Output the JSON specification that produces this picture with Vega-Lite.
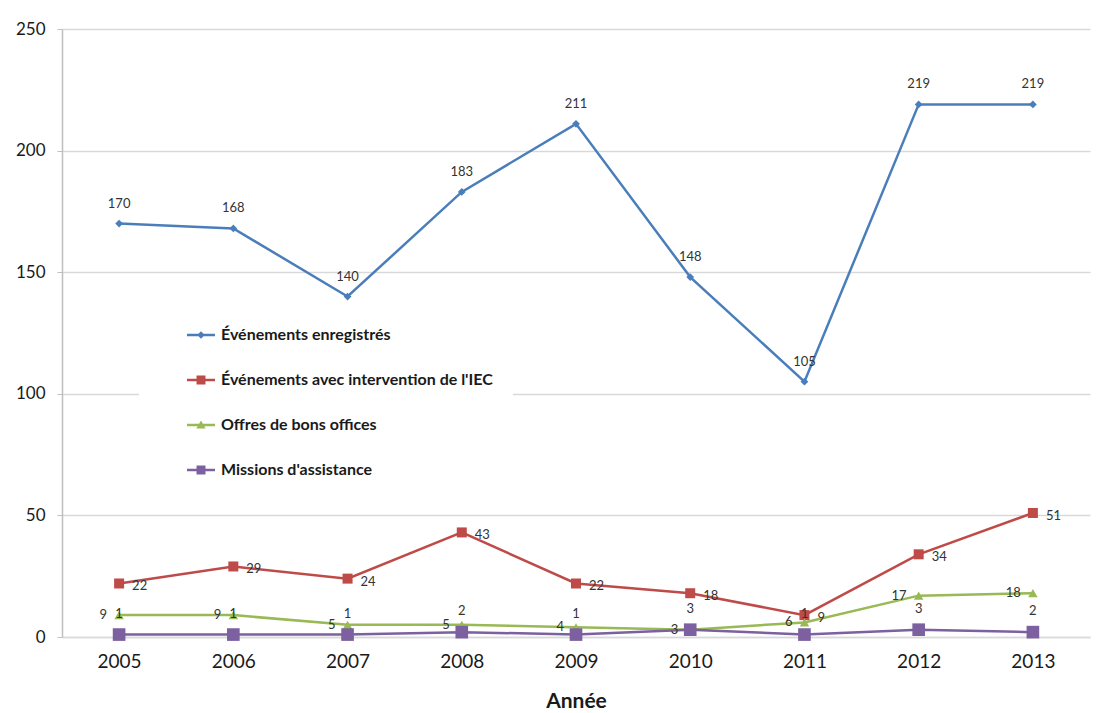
{
  "$schema": "https://vega.github.io/schema/vega-lite/v6.json",
  "width": 1028,
  "height": 608,
  "autosize": "none",
  "padding": {"left": 62, "top": 29, "right": 11, "bottom": 76},
  "background": "white",
  "config": {
    "font": "Lato",
    "view": {"stroke": null}
  },
  "data": {
    "values": [
      {"year": "2005", "series": "Événements enregistrés", "value": 170},
      {"year": "2006", "series": "Événements enregistrés", "value": 168},
      {"year": "2007", "series": "Événements enregistrés", "value": 140},
      {"year": "2008", "series": "Événements enregistrés", "value": 183},
      {"year": "2009", "series": "Événements enregistrés", "value": 211},
      {"year": "2010", "series": "Événements enregistrés", "value": 148},
      {"year": "2011", "series": "Événements enregistrés", "value": 105},
      {"year": "2012", "series": "Événements enregistrés", "value": 219},
      {"year": "2013", "series": "Événements enregistrés", "value": 219},
      {"year": "2005", "series": "Événements avec intervention de l'IEC", "value": 22},
      {"year": "2006", "series": "Événements avec intervention de l'IEC", "value": 29},
      {"year": "2007", "series": "Événements avec intervention de l'IEC", "value": 24},
      {"year": "2008", "series": "Événements avec intervention de l'IEC", "value": 43},
      {"year": "2009", "series": "Événements avec intervention de l'IEC", "value": 22},
      {"year": "2010", "series": "Événements avec intervention de l'IEC", "value": 18},
      {"year": "2011", "series": "Événements avec intervention de l'IEC", "value": 9},
      {"year": "2012", "series": "Événements avec intervention de l'IEC", "value": 34},
      {"year": "2013", "series": "Événements avec intervention de l'IEC", "value": 51},
      {"year": "2005", "series": "Offres de bons offices", "value": 9},
      {"year": "2006", "series": "Offres de bons offices", "value": 9},
      {"year": "2007", "series": "Offres de bons offices", "value": 5},
      {"year": "2008", "series": "Offres de bons offices", "value": 5},
      {"year": "2009", "series": "Offres de bons offices", "value": 4},
      {"year": "2010", "series": "Offres de bons offices", "value": 3},
      {"year": "2011", "series": "Offres de bons offices", "value": 6},
      {"year": "2012", "series": "Offres de bons offices", "value": 17},
      {"year": "2013", "series": "Offres de bons offices", "value": 18},
      {"year": "2005", "series": "Missions d'assistance", "value": 1},
      {"year": "2006", "series": "Missions d'assistance", "value": 1},
      {"year": "2007", "series": "Missions d'assistance", "value": 1},
      {"year": "2008", "series": "Missions d'assistance", "value": 2},
      {"year": "2009", "series": "Missions d'assistance", "value": 1},
      {"year": "2010", "series": "Missions d'assistance", "value": 3},
      {"year": "2011", "series": "Missions d'assistance", "value": 1},
      {"year": "2012", "series": "Missions d'assistance", "value": 3},
      {"year": "2013", "series": "Missions d'assistance", "value": 2}
    ]
  },
  "encoding": {
    "x": {
      "field": "year",
      "type": "ordinal",
      "scale": {"type": "point", "padding": 0.5},
      "axis": {
        "title": "Année",
        "titleFontSize": 21,
        "titleFontWeight": "bold",
        "titleColor": "#1a1a1a",
        "titlePadding": 19,
        "labelAngle": 0,
        "labelFontSize": 19,
        "labelColor": "#1a1a1a",
        "labelPadding": 15,
        "ticks": false,
        "domainColor": "#d9d9d9",
        "domainWidth": 1.5,
        "grid": false
      }
    },
    "y": {
      "field": "value",
      "type": "quantitative",
      "scale": {"domain": [0, 250], "nice": false},
      "axis": {
        "title": null,
        "values": [0, 50, 100, 150, 200, 250],
        "labelFontSize": 17,
        "labelColor": "#1a1a1a",
        "labelPadding": 12,
        "tickSize": 5,
        "tickColor": "#bfbfbf",
        "domainColor": "#bfbfbf",
        "domainWidth": 1.5,
        "gridColor": "#d9d9d9",
        "gridWidth": 1.5
      }
    }
  },
  "layer": [
    {
      "mark": {"type": "line", "strokeWidth": 2.5},
      "encoding": {
        "color": {
          "field": "series",
          "type": "nominal",
          "scale": {
            "domain": ["Missions d'assistance", "Offres de bons offices", "Événements avec intervention de l'IEC", "Événements enregistrés"],
            "range": ["#7D60A0", "#98B954", "#BE4B48", "#4A7EBB"]
          },
          "legend": null
        }
      }
    },
    {
      "transform": [{"filter": "datum.series === 'Événements enregistrés'"}],
      "mark": {"type": "point", "shape": "diamond", "filled": true, "opacity": 1, "size": 60, "color": "#4A7EBB"}
    },
    {
      "transform": [{"filter": "datum.series === \"Événements avec intervention de l'IEC\""}],
      "mark": {"type": "point", "shape": "square", "filled": true, "opacity": 1, "size": 100, "color": "#BE4B48"}
    },
    {
      "transform": [{"filter": "datum.series === 'Offres de bons offices'"}],
      "mark": {"type": "point", "shape": "triangle-up", "filled": true, "opacity": 1, "size": 90, "color": "#98B954"}
    },
    {
      "transform": [{"filter": "datum.series === \"Missions d'assistance\""}],
      "mark": {"type": "point", "shape": "square", "filled": true, "opacity": 1, "size": 160, "color": "#7D60A0"}
    },
    {
      "transform": [{"filter": "datum.series === 'Événements enregistrés'"}],
      "mark": {"type": "text", "dy": -20, "fontSize": 13, "color": "#333333"},
      "encoding": {"text": {"field": "value"}}
    },
    {
      "transform": [{"filter": "datum.series === \"Événements avec intervention de l'IEC\""}],
      "mark": {"type": "text", "dx": 13, "dy": 3, "align": "left", "fontSize": 13, "color": "#333333"},
      "encoding": {"text": {"field": "value"}}
    },
    {
      "transform": [{"filter": "datum.series === 'Offres de bons offices'"}],
      "mark": {"type": "text", "dx": -12, "dy": 0, "align": "right", "fontSize": 13, "color": "#333333"},
      "encoding": {"text": {"field": "value"}}
    },
    {
      "transform": [{"filter": "datum.series === \"Missions d'assistance\""}],
      "mark": {"type": "text", "dy": -21, "fontSize": 13, "color": "#333333"},
      "encoding": {"text": {"field": "value"}}
    },
    {
      "mark": {"type": "point", "filled": true, "opacity": 0},
      "encoding": {
        "shape": {
          "field": "series",
          "type": "nominal",
          "scale": {
            "domain": ["Événements enregistrés", "Événements avec intervention de l'IEC", "Offres de bons offices", "Missions d'assistance"],
            "range": [
              "M-1,-0.09H1V0.09H-1Z M0,-0.27L0.27,0L0,0.27L-0.27,0Z",
              "M-1,-0.09H1V0.09H-1Z M-0.32,-0.32H0.32V0.32H-0.32Z",
              "M-1,-0.09H1V0.09H-1Z M0,-0.32L0.33,0.25L-0.33,0.25Z",
              "M-1,-0.09H1V0.09H-1Z M-0.32,-0.32H0.32V0.32H-0.32Z"
            ]
          },
          "legend": {
            "title": null,
            "orient": "none",
            "legendX": 77,
            "legendY": 272,
            "padding": 20,
            "fillColor": "white",
            "symbolSize": 784,
            "symbolStrokeWidth": 0,
            "symbolOpacity": 1,
            "symbolOffset": 28,
            "labelFont": "Lato",
            "labelFontSize": 16,
            "labelFontWeight": "bold",
            "labelColor": "#1a1a1a",
            "labelOffset": 6,
            "labelLimit": 400,
            "rowPadding": 23,
            "encoding": {
              "symbols": {
                "fill": {"value": {"expr": "scale('color', datum.value)"}},
                "stroke": {"value": {"expr": "scale('color', datum.value)"}},
                "opacity": {"value": 1}
              }
            }
          }
        }
      }
    }
  ]
}
